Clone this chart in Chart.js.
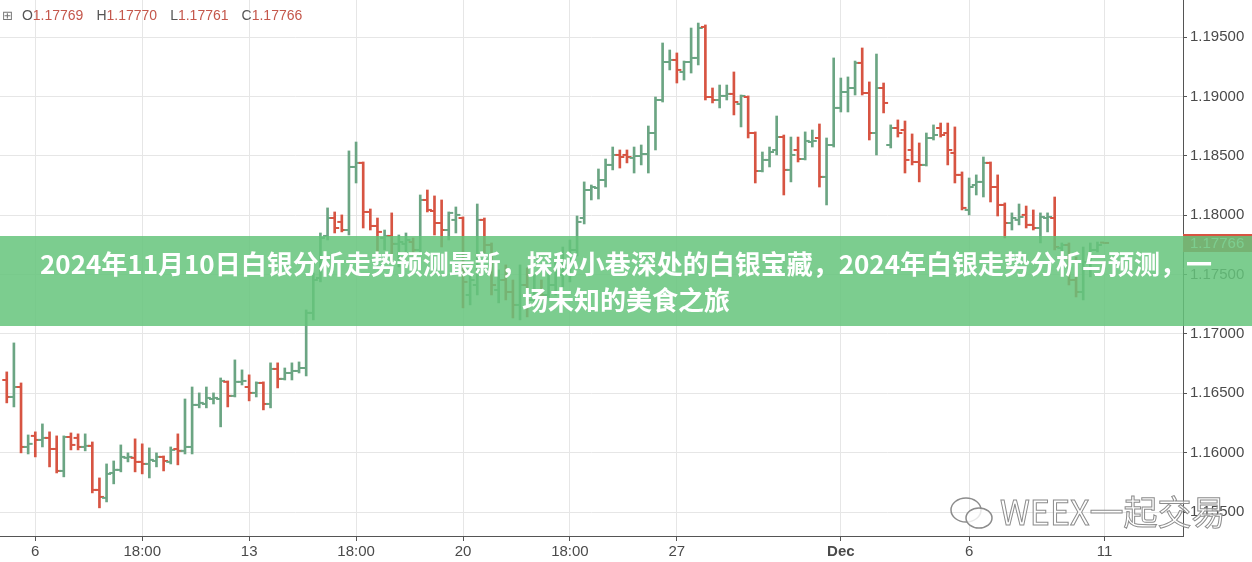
<!DOCTYPE html>
<html>
<head>
<meta charset="utf-8">
<script src="https://cdn.jsdelivr.net/npm/chart.js@4/dist/chart.umd.min.js"></script>
<style>
body { margin: 0; background: #fff; }
#wrap { position: relative; width: 1252px; height: 562px; overflow: hidden; }
#header { position: absolute; left: 2px; top: 7px; font: 14px 'Liberation Sans', Arial, sans-serif; color: #555; white-space: nowrap; }
#header span { display: inline-block; }
#header .v { color: #c4574b; margin-right: 13px; }
#header .box { font-family: 'DejaVu Sans'; font-size: 13px; color: #777; margin-right: 9px; }
#mark { position: absolute; left: 948px; top: 486px; font: 34px 'Noto Sans CJK SC', sans-serif; color: rgba(255,255,255,0.6); -webkit-text-stroke: 1px #8c8c8c; white-space: nowrap; }
#mark svg { vertical-align: -6px; margin-right: 4px; }
#banner { position: absolute; left: 0; top: 236px; width: 1252px; height: 90px; background: rgba(101,196,123,0.85); color: #fff; text-align: center; font: bold 26px 'Noto Sans CJK SC', sans-serif; line-height: 36px; padding-top: 9px; box-sizing: border-box; }
</style>
</head>
<body>
<div id="wrap">
  <canvas id="chart"></canvas>
  <div id="header"><span class="box">⊞</span><span>O</span><span class="v">1.17769</span><span>H</span><span class="v">1.17770</span><span>L</span><span class="v">1.17761</span><span>C</span><span class="v">1.17766</span></div>
  <div id="mark"><svg width="48" height="36" viewBox="0 0 48 36"><ellipse cx="18" cy="15" rx="15" ry="12" fill="none" stroke="#8c8c8c" stroke-width="1.5"/><ellipse cx="31" cy="23" rx="13" ry="10" fill="rgba(255,255,255,0.8)" stroke="#8c8c8c" stroke-width="1.5"/></svg>WEEX一起交易</div>
  <div id="banner">2024年11月10日白银分析走势预测最新，探秘小巷深处的白银宝藏，2024年白银走势分析与预测，一<br>场未知的美食之旅</div>
</div>
<script>
'use strict'
// 4h bars, oldest first
const opens = [1.16612,1.16469,1.16553,1.16048,1.16141,1.16107,1.16124,1.16031,1.15846,1.16132,
  1.16124,1.16048,1.16057,1.15686,1.15619,1.15829,1.15855,1.15956,1.15956,1.15922,
  1.15905,1.15930,1.15964,1.15922,1.16031,1.16015,1.16048,1.16402,1.16410,1.16452,
  1.16452,1.16596,1.16478,1.16596,1.16553,1.16503,1.16587,1.16410,1.16705,1.16621,
  1.16671,1.16688,1.16713,1.17177,1.17471,1.17825,1.17976,1.17943,1.17875,1.18406,
  1.18440,1.18027,1.17909,1.17808,1.17825,1.17758,1.17758,1.17774,1.17707,1.18128,
  1.18035,1.17934,1.17875,1.17960,1.17976,1.17328,1.17412,1.17960,1.17749,1.17370,
  1.17454,1.17353,1.17244,1.17412,1.17286,1.17370,1.17328,1.17412,1.17497,1.17581,
  1.17707,1.17976,1.18212,1.18229,1.18296,1.18423,1.18507,1.18507,1.18482,1.18498,
  1.18515,1.18692,1.18970,1.19290,1.19307,1.19206,1.19290,1.19324,1.19585,1.18995,
  1.18970,1.19004,1.19021,1.18936,1.18995,1.18692,1.18372,1.18465,1.18549,1.18658,
  1.18381,1.18549,1.18473,1.18616,1.18650,1.18322,1.18591,1.18903,1.19037,1.19071,
  1.19282,1.19029,1.18692,1.19071,1.18591,1.18734,1.18717,1.18549,1.18448,1.18423,
  1.18650,1.18734,1.18692,1.18524,1.18339,1.18044,1.18254,1.18280,1.18440,1.18237,
  1.18086,1.17934,1.17960,1.18002,1.17918,1.17892,1.17976,1.17976,1.17724,1.17749,
  1.17454,1.17353,1.17606,1.17707,1.17769];
const highs = [1.16680,1.16924,1.16587,1.16149,1.16175,1.16242,1.16175,1.16141,1.16141,1.16166,
  1.16158,1.16158,1.16090,1.15787,1.15905,1.15930,1.16065,1.15998,1.16116,1.16074,
  1.16040,1.15998,1.15972,1.16048,1.16158,1.16452,1.16553,1.16503,1.16553,1.16503,
  1.16629,1.16604,1.16781,1.16697,1.16655,1.16596,1.16596,1.16756,1.16756,1.16713,
  1.16756,1.16764,1.17202,1.17513,1.17850,1.18061,1.18027,1.18002,1.18541,1.18616,
  1.18448,1.18052,1.17976,1.17875,1.18019,1.17833,1.17850,1.17808,1.18170,1.18212,
  1.18162,1.18128,1.18027,1.18069,1.17985,1.17539,1.18094,1.17976,1.17766,1.17539,
  1.17581,1.17454,1.17581,1.17555,1.17497,1.17454,1.17539,1.17606,1.17732,1.17791,
  1.17993,1.18280,1.18254,1.18389,1.18473,1.18574,1.18549,1.18549,1.18574,1.18591,
  1.18751,1.18995,1.19450,1.19391,1.19366,1.19298,1.19576,1.19618,1.19602,1.19071,
  1.19096,1.19096,1.19206,1.19012,1.19004,1.18701,1.18532,1.18574,1.18835,1.18675,
  1.18658,1.18658,1.18701,1.18717,1.18768,1.18650,1.19324,1.19155,1.19164,1.19298,
  1.19408,1.19122,1.19357,1.19113,1.18760,1.18802,1.18793,1.18684,1.18608,1.18692,
  1.18760,1.18776,1.18776,1.18743,1.18364,1.18313,1.18339,1.18490,1.18448,1.18339,
  1.18103,1.18019,1.18094,1.18077,1.18044,1.18019,1.18019,1.18153,1.17766,1.17766,
  1.17648,1.17732,1.17766,1.17774,1.17770];
const lows = [1.16419,1.16385,1.15998,1.15989,1.15964,1.16048,1.15880,1.15829,1.15796,1.16023,
  1.16023,1.16015,1.15661,1.15535,1.15585,1.15737,1.15838,1.15922,1.15838,1.15821,
  1.15787,1.15880,1.15846,1.15905,1.15897,1.15989,1.15989,1.16377,1.16377,1.16410,
  1.16217,1.16385,1.16469,1.16570,1.16436,1.16469,1.16360,1.16377,1.16545,1.16612,
  1.16612,1.16671,1.16646,1.17118,1.17438,1.17791,1.17850,1.17859,1.17833,1.18271,
  1.17892,1.17875,1.17690,1.17707,1.17598,1.17564,1.17682,1.17665,1.17682,1.18027,
  1.17833,1.17732,1.17791,1.17850,1.17219,1.17244,1.17328,1.17682,1.17328,1.17261,
  1.17286,1.17134,1.17118,1.17143,1.17244,1.17286,1.17303,1.17328,1.17395,1.17438,
  1.17656,1.17926,1.18128,1.18136,1.18237,1.18381,1.18397,1.18440,1.18355,1.18423,
  1.18355,1.18549,1.18953,1.19223,1.19113,1.19138,1.19197,1.19265,1.18970,1.18945,
  1.18903,1.18970,1.18844,1.18743,1.18650,1.18271,1.18364,1.18406,1.18507,1.18170,
  1.18280,1.18448,1.18465,1.18574,1.18237,1.18086,1.18574,1.18869,1.18869,1.19012,
  1.19012,1.18633,1.18507,1.18861,1.18566,1.18658,1.18355,1.18423,1.18280,1.18414,
  1.18633,1.18658,1.18423,1.18271,1.18044,1.18002,1.18170,1.18153,1.18111,1.17993,
  1.17808,1.17875,1.17918,1.17892,1.17875,1.17766,1.17859,1.17707,1.17648,1.17412,
  1.17311,1.17286,1.17480,1.17690,1.17761];
const closes = [1.16469,1.16553,1.16048,1.16074,1.16107,1.16124,1.16031,1.15846,1.16132,1.16065,
  1.16048,1.16057,1.15686,1.15627,1.15821,1.15855,1.15964,1.15964,1.15922,1.15905,
  1.15939,1.15964,1.15930,1.16023,1.16015,1.16048,1.16402,1.16419,1.16461,1.16461,
  1.16604,1.16478,1.16596,1.16604,1.16503,1.16587,1.16410,1.16705,1.16621,1.16671,
  1.16688,1.16713,1.17177,1.17454,1.17808,1.17976,1.17892,1.17875,1.18406,1.18440,
  1.18027,1.17909,1.17859,1.17825,1.17758,1.17774,1.17791,1.17707,1.18128,1.18044,
  1.17934,1.17875,1.18019,1.18002,1.17438,1.17454,1.17960,1.17749,1.17412,1.17454,
  1.17353,1.17244,1.17412,1.17286,1.17370,1.17328,1.17412,1.17497,1.17581,1.17707,
  1.17943,1.18212,1.18237,1.18296,1.18423,1.18507,1.18490,1.18490,1.18498,1.18515,
  1.18692,1.18970,1.19290,1.19307,1.19223,1.19290,1.19324,1.19576,1.18995,1.18970,
  1.19004,1.19021,1.18953,1.19004,1.18692,1.18372,1.18465,1.18532,1.18658,1.18381,
  1.18507,1.18473,1.18625,1.18625,1.18322,1.18591,1.18903,1.19037,1.19071,1.19282,
  1.19029,1.18692,1.19071,1.18945,1.18734,1.18692,1.18465,1.18448,1.18423,1.18650,
  1.18675,1.18675,1.18549,1.18339,1.18061,1.18237,1.18280,1.18440,1.18237,1.18086,
  1.17934,1.17976,1.17985,1.17918,1.17892,1.17985,1.17985,1.17732,1.17749,1.17454,
  1.17353,1.17606,1.17707,1.17749,1.17766];

// x axis labels (bar index -> text)
const xTickPos = [4, 19, 34, 49, 64, 79, 94, 117, 135, 154];
const xTickText = ['6', '18:00', '13', '18:00', '20', '18:00', '27', 'Dec', '6', '11'];
// price axis
const yTicks = [1.155, 1.16, 1.165, 1.17, 1.175, 1.18, 1.185, 1.19, 1.195];

const upColor = '#6ba583';
const downColor = '#d75442';
const gridColor = '#e6e6e6';
const axisColor = '#555555';
const font = "'Liberation Sans', Arial, sans-serif";

const idx = closes.map((c, i) => i);
const barColors = idx.map(i => closes[i] >= opens[i] ? upColor : downColor);

// red box with last price on the right axis
const lastPriceTag = {
    id: 'lastPriceTag',
    afterDraw(chart){
        const ctx = chart.ctx;
        const area = chart.chartArea;
        const last = closes[closes.length - 1];
        const y = chart.scales.y.getPixelForValue(last);
        ctx.save();
        ctx.fillStyle = downColor;
        ctx.fillRect(area.right, Math.round(y) - 9, chart.width - area.right, 18);
        ctx.fillStyle = '#fff';
        ctx.font = '15px ' + font;
        ctx.textBaseline = 'middle';
        ctx.fillText(last.toFixed(5), area.right + 7, y + 1);
        ctx.restore();
    }
};

// no extra room for half labels at the ends of the axes
function noPadding(scale){
    scale.paddingTop = 0;
    scale.paddingBottom = 0;
    scale.paddingLeft = 0;
    scale.paddingRight = 0;
}

new Chart(document.getElementById('chart'), {
    type: 'bar',
    data: {
        datasets: [
            {
                type: 'bar',
                data: idx.map(i => ({ x: i, y: [lows[i], highs[i]] })),
                backgroundColor: barColors,
                barThickness: 2,
                borderWidth: 0,
                borderSkipped: false
            },
            {
                type: 'scatter',
                data: idx.map(i => ({ x: i - 0.35, y: opens[i] })),
                pointStyle: 'line',
                pointRadius: 2,
                pointHoverRadius: 2,
                borderWidth: 2,
                borderColor: barColors,
                showLine: false
            },
            {
                type: 'scatter',
                data: idx.map(i => ({ x: i + 0.35, y: closes[i] })),
                pointStyle: 'line',
                pointRadius: 2,
                pointHoverRadius: 2,
                borderWidth: 2,
                borderColor: barColors,
                showLine: false
            }
        ]
    },
    options: {
        responsive: true,
        maintainAspectRatio: false,
        animation: false,
        events: [],
        layout: { padding: 0, autoPadding: false },
        plugins: {
            legend: { display: false },
            tooltip: { enabled: false }
        },
        scales: {
            x: {
                type: 'linear',
                min: -0.95,
                max: 165,
                offset: false,
                grid: { color: gridColor, offset: false, tickLength: 5, tickColor: axisColor },
                border: { color: axisColor },
                afterBuildTicks: (scale) => { scale.ticks = xTickPos.map(v => ({ value: v })); },
                afterFit: (scale) => { scale.height = 26; noPadding(scale); },
                ticks: {
                    autoSkip: false,
                    maxRotation: 0,
                    padding: 2,
                    color: '#4a4a4a',
                    font: (c) => ({ family: font, size: 15, weight: (c.tick && c.tick.label === 'Dec') ? 'bold' : 'normal' }),
                    callback: (v, i) => xTickText[i]
                }
            },
            y: {
                position: 'right',
                min: 1.15298,
                max: 1.19812,
                grid: { color: gridColor, tickLength: 4, tickColor: axisColor },
                border: { color: axisColor },
                afterBuildTicks: (scale) => { scale.ticks = yTicks.map(v => ({ value: v })); },
                afterFit: (scale) => { scale.width = 69; noPadding(scale); },
                ticks: {
                    padding: 3,
                    color: '#4a4a4a',
                    font: { family: font, size: 15 },
                    callback: (v) => v.toFixed(5)
                }
            }
        }
    },
    plugins: [lastPriceTag]
});
</script>
</body>
</html>
